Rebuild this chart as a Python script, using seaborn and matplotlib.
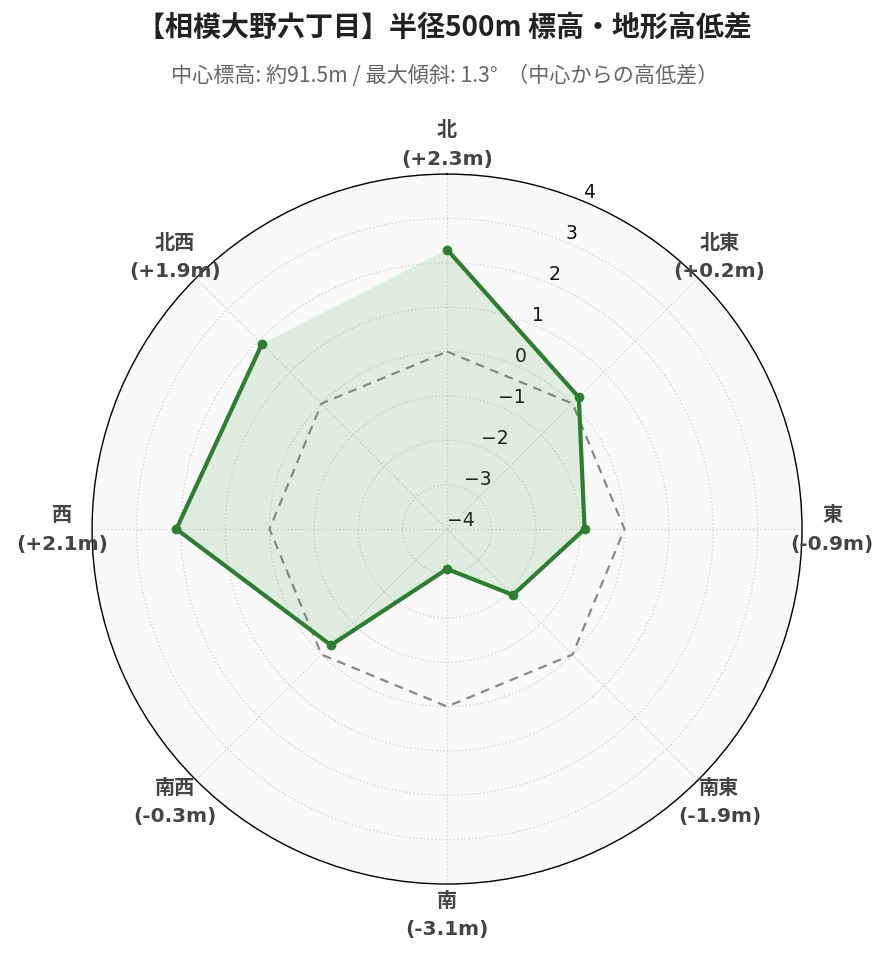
import numpy as np
import pandas as pd
import matplotlib
matplotlib.use("Agg")
import matplotlib.pyplot as plt
import seaborn as sns

# data
directions = ["北", "北東", "東", "南東", "南", "南西", "西", "北西"]
diffs = [2.3, 0.2, -0.9, -1.9, -3.1, -0.3, 2.1, 1.9]
r_ticks = [-4, -3, -2, -1, 0, 1, 2, 3, 4]
title = "【相模大野六丁目】半径500m 標高・地形高低差"
subtitle = "中心標高: 約91.5m / 最大傾斜: 1.3°  （中心からの高低差）"

sns.set_theme(style="white")
plt.rcParams['font.family'] = ['DejaVu Sans', 'Noto Sans CJK JP']
plt.rcParams['axes.unicode_minus'] = True

GREEN = "#2e7d32"

theta = np.arange(len(directions)) * 2 * np.pi / len(directions)
df = pd.DataFrame({
    "theta": np.append(theta, theta[0]),
    "diff": diffs + diffs[:1],
})

fig = plt.figure(figsize=(8.89, 9.62), dpi=100)
ax = fig.add_axes([0.1035, 0.080, 0.7987, 0.738], projection="polar")
ax.set_theta_offset(np.pi / 2)
ax.set_theta_direction(-1)
ax.set_facecolor("#f9f9f9")

# zero reference line (dashed octagon)
ax.plot(df["theta"], np.zeros(len(df)), ls="--", color="#888888", lw=1.6,
        dashes=(4, 3), zorder=2)

# filled area + line
ax.fill(df["theta"], df["diff"], color="#4caf50", alpha=0.15, lw=0, zorder=2)
sns.lineplot(data=df, x="theta", y="diff", sort=False, ax=ax, color=GREEN,
             lw=3.0, marker="o", markersize=7, markeredgewidth=0, zorder=3)

ax.set_ylim(-4, 4)
ax.set_yticks(r_ticks)
ax.set_yticklabels([str(t).replace("-", "\u2212") for t in r_ticks],
                   fontsize=13.5, color="#111111")
ax.set_rlabel_position(22.5)
ax.set_xticks(theta)
ax.set_xticklabels([])
ax.grid(True, color="#d4d4d4", ls=":", lw=1.0)
ax.spines["polar"].set_color("black")
ax.spines["polar"].set_linewidth(1.0)
ax.set_xlabel("")
ax.set_ylabel("")

# direction labels
for t, name, v in zip(theta, directions, diffs):
    ax.text(t, 4.68, f"{name}\n({v:+.1f}m)", ha="center", va="center",
            fontsize=14.5, fontweight="bold", color="#444444", linespacing=1.62,
            clip_on=False)

fig.text(0.5, 0.971, title, ha="center", va="center", fontsize=20.2,
         fontweight="bold", color="#222222", family=['Noto Sans CJK JP'])
fig.text(0.5, 0.921, subtitle, ha="center", va="center", fontsize=15.2,
         color="#666666", family=['Noto Sans CJK JP', 'DejaVu Sans'])

fig.savefig("out.png", dpi=100)
